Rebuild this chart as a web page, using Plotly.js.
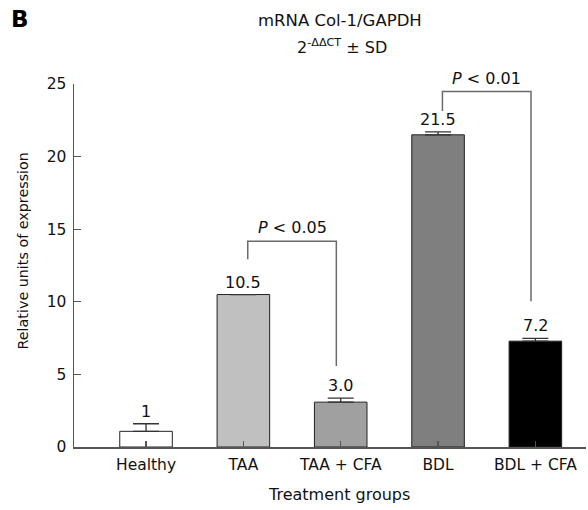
<!DOCTYPE html>
<html>
<head>
<meta charset="utf-8">
<script src="https://cdn.plot.ly/plotly-3.0.1.min.js"></script>
<style>html,body{margin:0;padding:0;background:#fff;}#chart{width:588px;height:510px;}</style>
</head>
<body>
<div id="chart"></div>
<script>
// ---- data ----
var categories = ["Healthy", "TAA", "TAA + CFA", "BDL", "BDL + CFA"];
var values = [1.08, 10.5, 3.09, 21.5, 7.29];
var errors = [0.52, 0.0, 0.28, 0.2, 0.19];
var valueLabels = ["1", "10.5", "3.0", "21.5", "7.2"];
var barColors = ["#ffffff", "#c0c0c0", "#a0a0a0", "#7f7f7f", "#000000"];
var yTicks = [0, 5, 10, 15, 20, 25];
// significance brackets
var compFrom = [1, 3];
var compTo = [2, 4];
var compTop = [14.17, 24.48];
var compLeftEnd = [12.93, 23.14];
var compRightEnd = [5.57, 10.04];
var compLabels = ["<i>P</i> < 0.05", "<i>P</i> < 0.01"];

var FONT = "DejaVu Sans, Verdana, sans-serif";
var xIdx = categories.map(function (_, i) { return i; });

var traces = [{
  type: "bar",
  x: xIdx,
  y: values,
  width: 0.54,
  marker: { color: barColors, line: { color: "#222", width: 1 } },
  error_y: {
    type: "data", symmetric: false, array: errors,
    arrayminus: errors.map(function () { return 0; }),
    color: "#333", thickness: 1.3, width: 13, visible: true
  },
  hoverinfo: "none"
}];

var off = 0.045;
for (var k = 0; k < compFrom.length; k++) {
  traces.push({
    type: "scatter", mode: "lines",
    x: [compFrom[k] + off, compFrom[k] + off, compTo[k] - off, compTo[k] - off],
    y: [compLeftEnd[k], compTop[k], compTop[k], compRightEnd[k]],
    line: { color: "#6a6a6a", width: 1.5 },
    cliponaxis: false, hoverinfo: "none"
  });
}

var annotations = [];
for (var i = 0; i < categories.length; i++) {
  annotations.push({
    x: xIdx[i], y: values[i] + errors[i], xref: "x", yref: "y",
    text: valueLabels[i], showarrow: false, yanchor: "bottom", yshift: 1,
    font: { family: FONT, size: 16, color: "#111" }
  });
}
for (var k2 = 0; k2 < compFrom.length; k2++) {
  annotations.push({
    x: (compFrom[k2] + compTo[k2]) / 2, y: compTop[k2], xref: "x", yref: "y",
    text: compLabels[k2], showarrow: false, yanchor: "bottom", yshift: 2,
    font: { family: FONT, size: 16, color: "#111" }
  });
}
annotations.push({ xref: "paper", yref: "paper", x: 0.5205, y: 1.176, text: "mRNA Col-1/GAPDH",
  showarrow: false, xanchor: "center", yanchor: "middle", font: { family: FONT, size: 16.5, color: "#111" } });
annotations.push({ xref: "paper", yref: "paper", x: 0.5225, y: 1.102, text: "2<sup>-ΔΔCT</sup> ± SD",
  showarrow: false, xanchor: "center", yanchor: "middle", font: { family: FONT, size: 16, color: "#111" } });
annotations.push({ xref: "paper", yref: "paper", x: 0.5176, y: -0.1295, text: "Treatment groups",
  showarrow: false, xanchor: "center", yanchor: "middle", font: { family: FONT, size: 16, color: "#111" } });
annotations.push({ xref: "paper", yref: "paper", x: -0.1006, y: 0.54, text: "Relative units of expression",
  textangle: -90, showarrow: false, xanchor: "center", yanchor: "middle", font: { family: FONT, size: 14.3, color: "#111" } });
annotations.push({ xref: "paper", yref: "paper", x: -0.1045, y: 1.179, text: "<b>B</b>",
  showarrow: false, xanchor: "center", yanchor: "middle", font: { family: FONT, size: 23, color: "#000" } });

var layout = {
  width: 588, height: 510,
  margin: { l: 74, r: 2, t: 84, b: 63 },
  paper_bgcolor: "#fff", plot_bgcolor: "#fff",
  showlegend: false,
  font: { family: FONT, size: 15, color: "#111" },
  xaxis: {
    range: [-0.74, 4.52], tickvals: xIdx, ticktext: categories,
    showgrid: false, zeroline: false, showline: true, linecolor: "#555", linewidth: 1.5,
    ticks: "inside", ticklen: 6, tickcolor: "#555", tickwidth: 1.3,
    tickfont: { family: FONT, size: 15.5, color: "#111" }, ticklabelstandoff: 3
  },
  yaxis: {
    range: [0, 25], tickvals: yTicks,
    showgrid: false, zeroline: false, showline: true, linecolor: "#555", linewidth: 1.5,
    ticks: "inside", ticklen: 7, tickcolor: "#555", tickwidth: 1.3,
    tickfont: { family: FONT, size: 15.5, color: "#111" }, ticklabelstandoff: 3
  },
  annotations: annotations
};

Plotly.newPlot("chart", traces, layout, { displayModeBar: false, staticPlot: true });
</script>
</body>
</html>
